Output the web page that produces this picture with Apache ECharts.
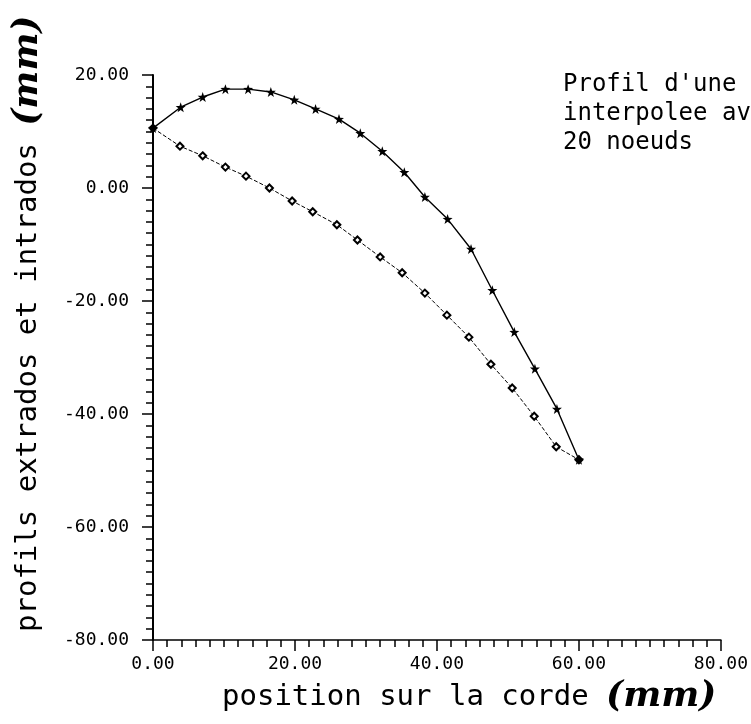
<!DOCTYPE html>
<html>
<head>
<meta charset="utf-8">
<script src="https://cdn.jsdelivr.net/npm/echarts@6/dist/echarts.min.js"></script>
<style>
  html, body { margin: 0; padding: 0; background: #fff; }
  #main { width: 751px; height: 724px; }
</style>
</head>
<body>
<div id="main"></div>
<script>
// extrados (upper surface, stars)
const xExtrados = [0, 3.9, 7.0, 10.2, 13.4, 16.6, 19.9, 22.9, 26.2, 29.2, 32.3, 35.4, 38.3, 41.5, 44.8, 47.8, 50.9, 53.8, 56.9, 60.0];
const yExtrados = [10.6, 14.3, 16.1, 17.5, 17.5, 17.0, 15.6, 14.0, 12.2, 9.7, 6.5, 2.8, -1.6, -5.5, -10.8, -18.1, -25.5, -32.0, -39.1, -48.1];
// intrados (lower surface, open markers)
const xIntrados = [0, 3.8, 7.0, 10.2, 13.1, 16.4, 19.6, 22.5, 25.9, 28.8, 32.0, 35.1, 38.3, 41.4, 44.5, 47.6, 50.6, 53.7, 56.8, 60.0];
const yIntrados = [10.6, 7.4, 5.7, 3.7, 2.1, 0.0, -2.3, -4.2, -6.5, -9.2, -12.2, -15.0, -18.6, -22.5, -26.4, -31.2, -35.4, -40.4, -45.8, -48.1];

const noteLines = ["Profil d'une", 'interpolee av', '20 noeuds'];

const MONO = '"DejaVu Sans Mono", monospace';
const star = 'path://M0,-10L2.35,-3.24L9.51,-3.09L3.8,1.24L5.88,8.09L0,4L-5.88,8.09L-3.8,1.24L-9.51,-3.09L-2.35,-3.24Z';

const pairs = (xs, ys) => xs.map((x, i) => [x, ys[i]]);

let chartDom = document.getElementById('main');
let myChart = echarts.init(chartDom);
let option;

option = {
  backgroundColor: '#fff',
  animation: false,
  grid: { left: 153, top: 75, width: 572, height: 565 },
  xAxis: {
    type: 'value',
    min: 0,
    max: 80,
    interval: 20,
    axisLine: { onZero: false, lineStyle: { color: '#000', width: 1.5 } },
    axisTick: { show: true, length: 11, lineStyle: { color: '#000', width: 1.5 } },
    minorTick: { show: true, splitNumber: 10, length: 7, lineStyle: { color: '#000', width: 1.5 } },
    splitLine: { show: false },
    axisLabel: {
      margin: 15,
      color: '#000',
      fontFamily: MONO,
      fontSize: 18,
      formatter: v => v.toFixed(2)
    }
  },
  yAxis: {
    type: 'value',
    min: -80,
    max: 20,
    interval: 20,
    axisLine: { onZero: false, lineStyle: { color: '#000', width: 2 } },
    axisTick: { show: true, length: 11, lineStyle: { color: '#000', width: 1.5 } },
    minorTick: { show: true, splitNumber: 10, length: 7, lineStyle: { color: '#000', width: 1.5 } },
    splitLine: { show: false },
    axisLabel: {
      margin: 24,
      color: '#000',
      fontFamily: MONO,
      fontSize: 18,
      formatter: v => v.toFixed(2)
    }
  },
  graphic: [
    {
      type: 'text',
      left: 563,
      top: 70,
      style: {
        text: noteLines.join('\n'),
        font: '24px ' + MONO,
        lineHeight: 29,
        fill: '#000'
      }
    },
    {
      type: 'text',
      x: 222,
      y: 697,
      style: {
        text: '{a|position sur la corde }{b|(mm)}',
        verticalAlign: 'middle',
        fill: '#000',
        rich: {
          a: { fontFamily: MONO, fontSize: 29, fill: '#000' },
          b: { fontFamily: '"DejaVu Serif", serif', fontStyle: 'italic', fontWeight: 'bold', fontSize: 36, fill: '#000' }
        }
      }
    },
    {
      type: 'text',
      x: 28,
      y: 632,
      rotation: Math.PI / 2,
      style: {
        text: '{a|profils extrados et intrados }{b|(mm)}',
        verticalAlign: 'middle',
        fill: '#000',
        rich: {
          a: { fontFamily: MONO, fontSize: 29, fill: '#000' },
          b: { fontFamily: '"DejaVu Serif", serif', fontStyle: 'italic', fontWeight: 'bold', fontSize: 36, fill: '#000' }
        }
      }
    }
  ],
  series: [
    {
      name: 'intrados',
      type: 'line',
      data: pairs(xIntrados, yIntrados),
      symbol: 'emptyDiamond',
      symbolSize: 7,
      lineStyle: { color: '#000', width: 1, type: [4, 2] },
      itemStyle: { color: '#000', borderColor: '#000', borderWidth: 1.5 },
      z: 2
    },
    {
      name: 'extrados',
      type: 'line',
      data: pairs(xExtrados, yExtrados),
      symbol: star,
      symbolSize: 10,
      lineStyle: { color: '#000', width: 1.4 },
      itemStyle: { color: '#000' },
      z: 3
    }
  ]
};

option && myChart.setOption(option);
window.addEventListener('resize', () => {
  myChart.resize();
});
</script>
</body>
</html>
